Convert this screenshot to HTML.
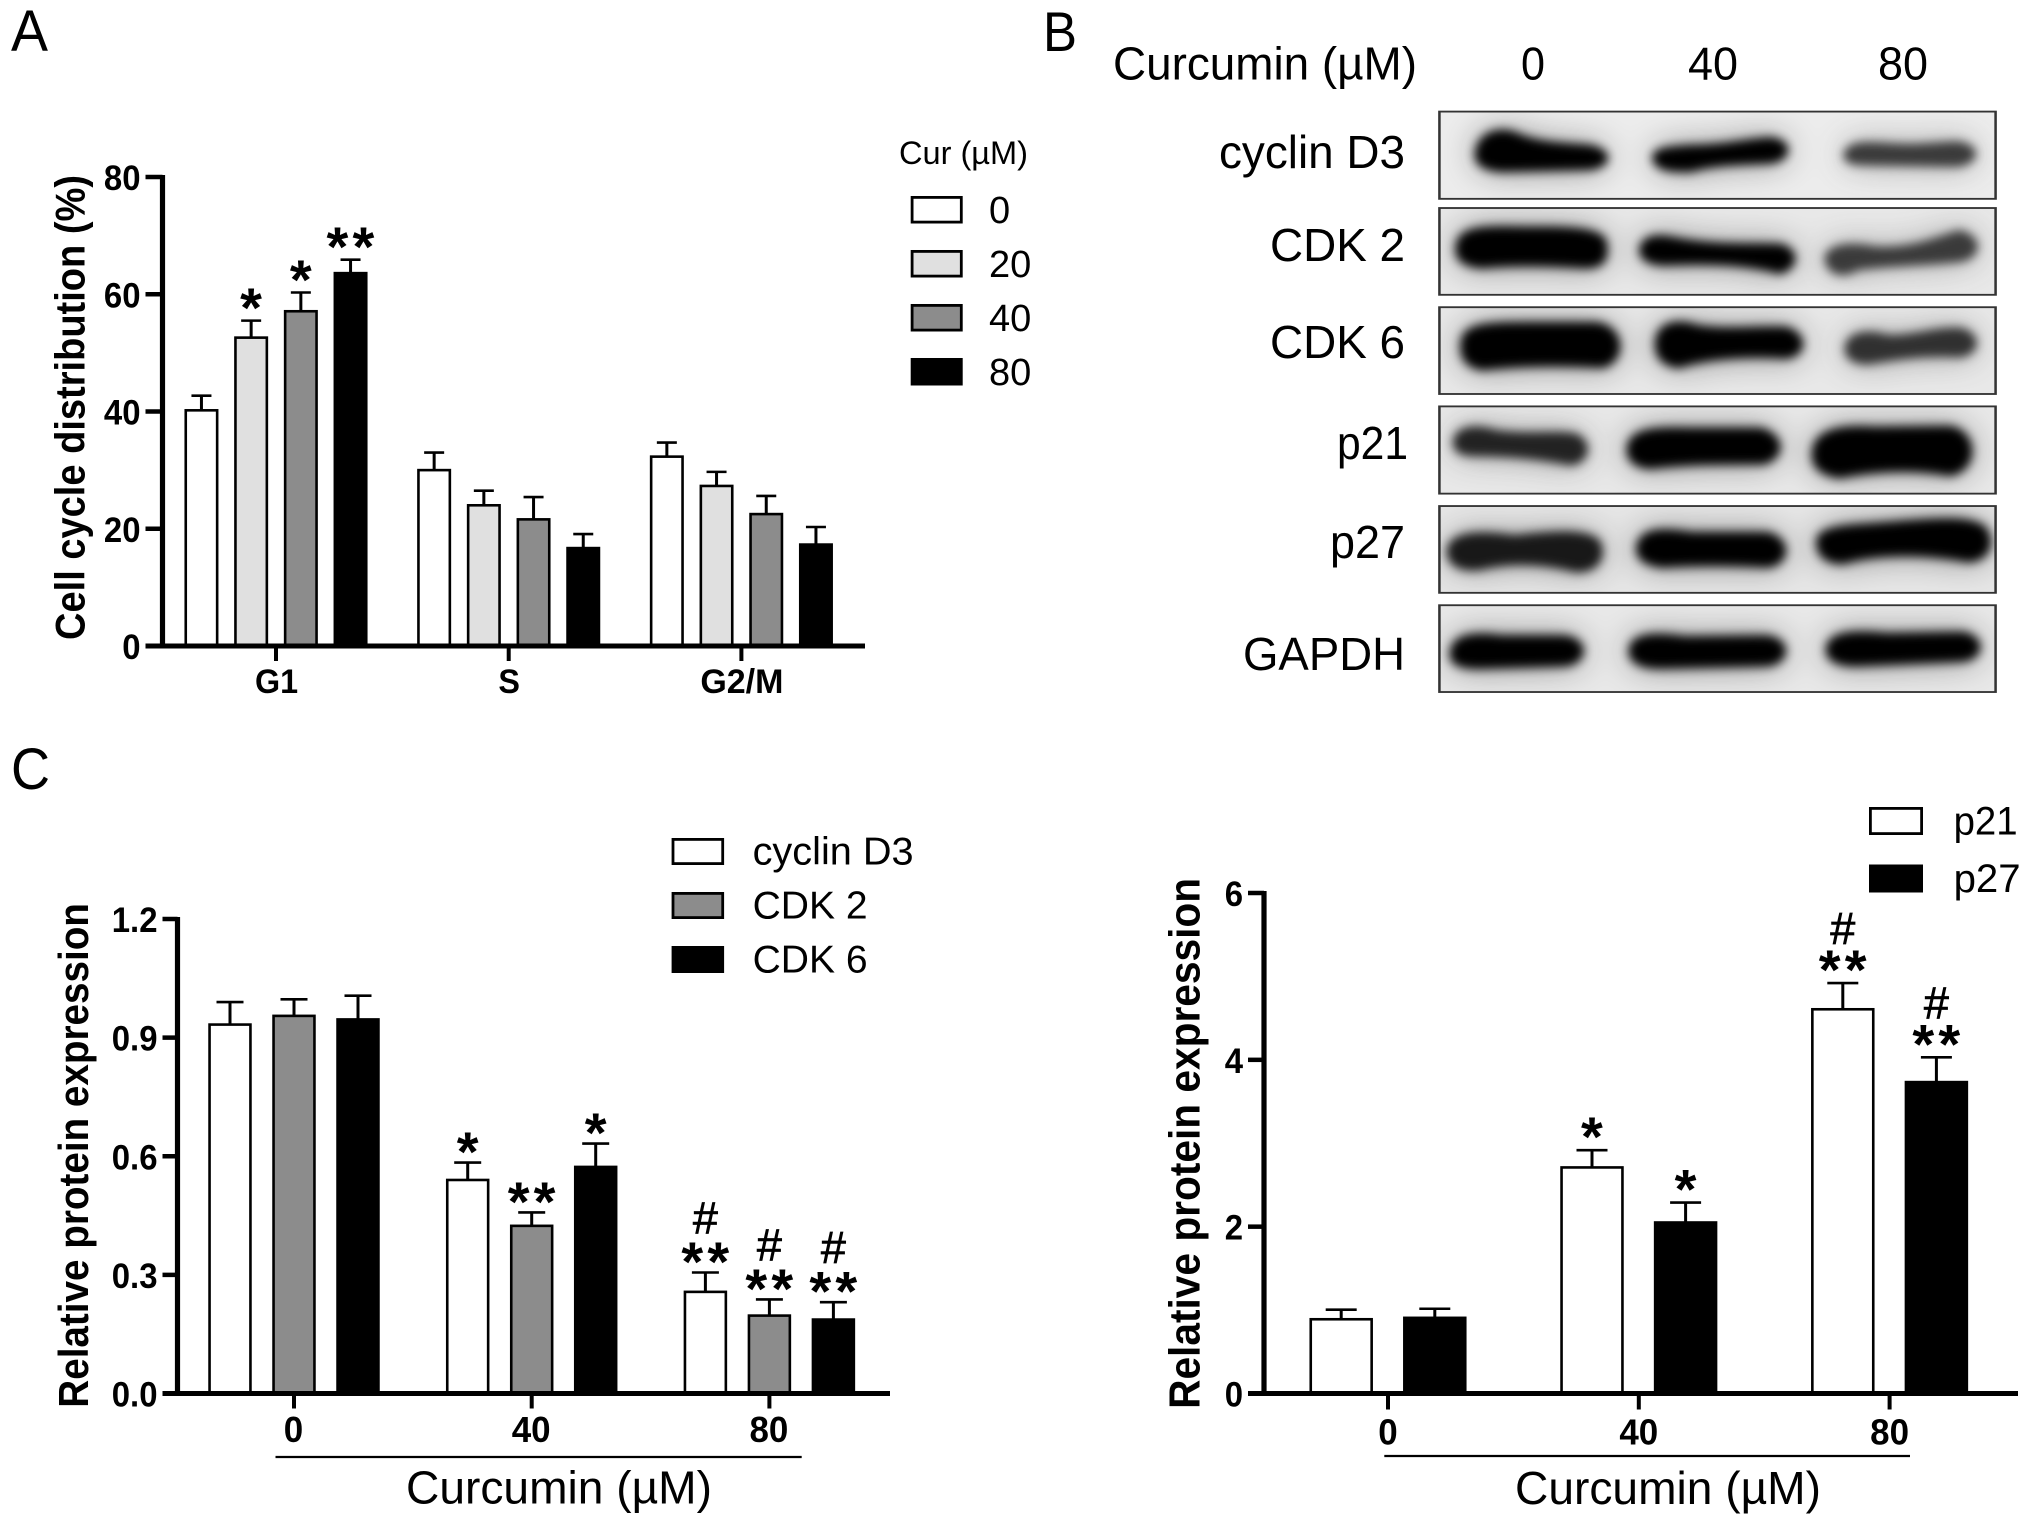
<!DOCTYPE html>
<html lang="en">
<head>
<meta charset="utf-8">
<title>Curcumin cell cycle figure</title>
<style>
html,body{margin:0;padding:0;background:#fff;}
svg{display:block;}
text{font-family:"Liberation Sans",Arial,sans-serif;fill:#000;}
.blot-band{stroke-linejoin:round;stroke-width:13;}
.blot-band.light{stroke-width:17;}
</style>
</head>
<body>
<svg id="figure" xmlns="http://www.w3.org/2000/svg" width="2031" height="1527" viewBox="0 0 2031 1527">
<defs>
  <filter id="bandBlur" x="-30%" y="-150%" width="160%" height="400%" color-interpolation-filters="sRGB">
    <feGaussianBlur in="SourceGraphic" stdDeviation="26 36" result="halo"/>
    <feComponentTransfer in="halo" result="haloFaint"><feFuncA type="linear" slope="0.42"/></feComponentTransfer>
    <feGaussianBlur in="SourceGraphic" stdDeviation="8 11" result="core"/>
    <feMerge><feMergeNode in="haloFaint"/><feMergeNode in="core"/></feMerge>
  </filter>
  <clipPath id="rowClip1"><rect x="632" y="243" width="880" height="190"/></clipPath>
  <clipPath id="rowClip2"><rect x="632" y="453" width="880" height="189"/></clipPath>
  <clipPath id="rowClip3"><rect x="632" y="669" width="880" height="189"/></clipPath>
  <clipPath id="rowClip4"><rect x="632" y="885" width="880" height="190"/></clipPath>
  <clipPath id="rowClip5"><rect x="632" y="1102" width="880" height="189"/></clipPath>
  <clipPath id="rowClip6"><rect x="632" y="1318" width="880" height="189"/></clipPath>
</defs>

<text x="11" y="51" font-size="58" textLength="37" lengthAdjust="spacingAndGlyphs">A</text>
<text x="1043" y="51" font-size="56" textLength="34" lengthAdjust="spacingAndGlyphs">B</text>
<text x="11" y="789" font-size="58" textLength="39" lengthAdjust="spacingAndGlyphs">C</text>

<g id="panelB">
  <text x="1113" y="79.5" font-size="46" textLength="304" lengthAdjust="spacingAndGlyphs">Curcumin (µM)</text>
  <text x="1533" y="79.5" font-size="46" text-anchor="middle" textLength="24" lengthAdjust="spacingAndGlyphs">0</text>
  <text x="1713" y="79.5" font-size="46" text-anchor="middle" textLength="50" lengthAdjust="spacingAndGlyphs">40</text>
  <text x="1903" y="79.5" font-size="46" text-anchor="middle" textLength="50" lengthAdjust="spacingAndGlyphs">80</text>

  <text x="1405" y="168" font-size="46" text-anchor="end" textLength="186" lengthAdjust="spacingAndGlyphs">cyclin D3</text>
  <text x="1405" y="261" font-size="46" text-anchor="end" textLength="135" lengthAdjust="spacingAndGlyphs">CDK 2</text>
  <text x="1405" y="358" font-size="46" text-anchor="end" textLength="135" lengthAdjust="spacingAndGlyphs">CDK 6</text>
  <text x="1408" y="459" font-size="46" text-anchor="end" textLength="71" lengthAdjust="spacingAndGlyphs">p21</text>
  <text x="1405" y="558" font-size="46" text-anchor="end" textLength="75" lengthAdjust="spacingAndGlyphs">p27</text>
  <text x="1405" y="670" font-size="46" text-anchor="end" textLength="162" lengthAdjust="spacingAndGlyphs">GAPDH</text>

  <g transform="translate(1040 0) scale(0.6320 0.4592)">
    <g>
      <rect x="632" y="243" width="880" height="190" fill="#ececec"/>
      <g clip-path="url(#rowClip1)"><g filter="url(#bandBlur)">
        <path class="blot-band" fill="#000" stroke="#000" d="M695 330 C700 290 730 280 755 297 C790 318 840 318 870 322 C900 330 900 358 870 364 L730 368 C700 365 692 350 695 330Z"/>
        <path class="blot-band" fill="#000" stroke="#000" d="M975 340 C980 325 1000 325 1030 322 C1080 322 1120 308 1155 305 C1185 308 1185 345 1155 350 C1110 352 1060 355 1030 368 C995 370 975 365 975 340Z"/>
        <path class="blot-band light" fill="#3a3a3a" stroke="#3a3a3a" d="M1280 335 C1285 318 1300 315 1340 320 C1390 325 1420 318 1450 316 C1480 320 1480 350 1450 355 L1310 352 C1290 352 1278 350 1280 335Z"/>
      </g></g>
      <rect x="632" y="243" width="880" height="190" fill="none" stroke="#333" stroke-width="4"/>
    </g>
    <g>
      <rect x="632" y="453" width="880" height="189" fill="#e8e8e8"/>
      <g clip-path="url(#rowClip2)"><g filter="url(#bandBlur)">
        <path class="blot-band" fill="#000" stroke="#000" d="M665 530 C670 500 700 498 760 500 C830 500 880 500 890 525 C895 560 890 580 860 578 C800 572 740 572 700 578 C670 575 660 560 665 530Z"/>
        <path class="blot-band" fill="#000" stroke="#000" d="M955 540 C960 515 980 515 1010 525 C1070 540 1130 535 1170 537 C1195 545 1195 580 1170 590 C1120 570 1050 568 990 572 C965 572 952 560 955 540Z"/>
        <path class="blot-band light" fill="#3a3a3a" stroke="#3a3a3a" d="M1250 560 C1255 540 1280 535 1320 545 C1380 550 1420 525 1455 510 C1482 520 1482 555 1455 562 C1400 570 1330 572 1290 580 C1270 600 1250 590 1250 560Z"/>
      </g></g>
      <rect x="632" y="453" width="880" height="189" fill="none" stroke="#333" stroke-width="4"/>
    </g>
    <g>
      <rect x="632" y="669" width="880" height="189" fill="#e8e8e8"/>
      <g clip-path="url(#rowClip3)"><g filter="url(#bandBlur)">
        <path class="blot-band" fill="#000" stroke="#000" d="M672 750 C672 712 700 708 770 708 L880 708 C918 715 922 780 890 795 C830 790 760 790 700 800 C680 795 670 780 672 750Z"/>
        <path class="blot-band" fill="#000" stroke="#000" d="M980 740 C985 705 1010 700 1040 715 C1090 725 1140 715 1180 718 C1208 730 1208 770 1180 775 C1130 770 1060 772 1010 795 C985 790 978 770 980 740Z"/>
        <path class="blot-band light" fill="#303030" stroke="#303030" d="M1282 755 C1285 730 1310 725 1340 738 C1380 740 1420 720 1455 722 C1480 730 1480 765 1455 770 C1400 765 1350 775 1310 785 C1290 785 1280 775 1282 755Z"/>
      </g></g>
      <rect x="632" y="669" width="880" height="189" fill="none" stroke="#333" stroke-width="4"/>
    </g>
    <g>
      <rect x="632" y="885" width="880" height="190" fill="#e8e8e8"/>
      <g clip-path="url(#rowClip4)"><g filter="url(#bandBlur)">
        <path class="blot-band light" fill="#222" stroke="#222" d="M662 960 C665 935 690 932 720 945 C770 955 820 945 845 952 C865 965 862 1000 840 1005 C790 990 730 985 690 985 C670 985 660 980 662 960Z"/>
        <path class="blot-band" fill="#000" stroke="#000" d="M935 975 C938 940 970 935 1030 938 L1140 938 C1170 950 1175 990 1145 1005 C1080 1005 1020 1005 965 1015 C945 1012 933 1000 935 975Z"/>
        <path class="blot-band" fill="#000" stroke="#000" d="M1228 985 C1230 945 1260 930 1320 936 L1440 934 C1478 945 1478 1020 1440 1030 C1380 1015 1320 1020 1265 1035 C1240 1030 1226 1015 1228 985Z"/>
      </g></g>
      <rect x="632" y="885" width="880" height="190" fill="none" stroke="#333" stroke-width="4"/>
    </g>
    <g>
      <rect x="632" y="1102" width="880" height="189" fill="#e6e6e6"/>
      <g clip-path="url(#rowClip5)"><g filter="url(#bandBlur)">
        <path class="blot-band" fill="#181818" stroke="#181818" d="M650 1200 C652 1165 690 1160 750 1172 C800 1165 860 1155 880 1180 C890 1210 880 1240 850 1240 C810 1225 750 1215 695 1235 C665 1240 650 1225 650 1200Z"/>
        <path class="blot-band" fill="#000" stroke="#000" d="M950 1190 C955 1155 985 1155 1030 1165 L1150 1165 C1182 1175 1182 1225 1150 1230 C1090 1225 1040 1225 985 1230 C960 1225 948 1215 950 1190Z"/>
        <path class="blot-band" fill="#000" stroke="#000" d="M1235 1175 C1240 1145 1300 1150 1370 1140 C1420 1135 1470 1130 1490 1150 C1505 1175 1500 1215 1470 1218 C1400 1200 1320 1200 1270 1222 C1245 1222 1233 1205 1235 1175Z"/>
      </g></g>
      <rect x="632" y="1102" width="880" height="189" fill="none" stroke="#333" stroke-width="4"/>
    </g>
    <g>
      <rect x="632" y="1318" width="880" height="189" fill="#e8e8e8"/>
      <g clip-path="url(#rowClip6)"><g filter="url(#bandBlur)">
        <path class="blot-band" fill="#000" stroke="#000" d="M655 1420 C658 1385 690 1382 730 1390 L830 1390 C862 1395 862 1440 830 1445 L700 1450 C670 1452 652 1445 655 1420Z"/>
        <path class="blot-band" fill="#000" stroke="#000" d="M938 1415 C940 1385 970 1382 1020 1392 L1150 1390 C1182 1395 1182 1440 1150 1445 L980 1450 C955 1450 936 1440 938 1415Z"/>
        <path class="blot-band" fill="#000" stroke="#000" d="M1250 1412 C1252 1380 1290 1378 1340 1385 L1460 1382 C1490 1390 1488 1430 1460 1435 L1290 1445 C1265 1445 1248 1435 1250 1412Z"/>
      </g></g>
      <rect x="632" y="1318" width="880" height="189" fill="none" stroke="#333" stroke-width="4"/>
    </g>
  </g>
</g>
</svg>

<script>
// ---------- Panel A data ----------
const categoriesA = ["G1", "S", "G2/M"];
const seriesNamesA = ["0", "20", "40", "80"];
const ticksA = ["0", "20", "40", "60", "80"];
const valuesA0 = [40.2, 30.0, 32.3];
const valuesA20 = [52.6, 24.0, 27.3];
const valuesA40 = [57.1, 21.6, 22.5];
const valuesA80 = [63.6, 16.7, 17.3];
const errorsA0 = [42.7, 33.0, 34.7];
const errorsA20 = [55.5, 26.5, 29.7];
const errorsA40 = [60.3, 25.4, 25.6];
const errorsA80 = [65.9, 19.1, 20.3];
const marksA0 = ["", "", ""];
const marksA20 = ["*", "", ""];
const marksA40 = ["*", "", ""];
const marksA80 = ["**", "", ""];

// ---------- Panel C (left) data ----------
const categoriesC1 = ["0", "40", "80"];
const seriesNamesC1 = ["cyclin D3", "CDK 2", "CDK 6"];
const ticksC1 = ["0.0", "0.3", "0.6", "0.9", "1.2"];
const valuesCyclinD3 = [0.933, 0.54, 0.257];
const valuesCdk2 = [0.955, 0.424, 0.197];
const valuesCdk6 = [0.946, 0.573, 0.187];
const errorsCyclinD3 = [0.99, 0.584, 0.306];
const errorsCdk2 = [0.997, 0.458, 0.238];
const errorsCdk6 = [1.006, 0.632, 0.231];
const marksCyclinD3 = ["", "*", "#**"];
const marksCdk2 = ["", "**", "#**"];
const marksCdk6 = ["", "*", "#**"];

// ---------- Panel C (right) data ----------
const categoriesC2 = ["0", "40", "80"];
const seriesNamesC2 = ["p21", "p27"];
const ticksC2 = ["0", "2", "4", "6"];
const valuesP21 = [0.89, 2.71, 4.606];
const valuesP27 = [0.907, 2.05, 3.733];
const errorsP21 = [1.005, 2.917, 4.92];
const errorsP27 = [1.016, 2.289, 4.03];
const marksP21 = ["", "*", "#**"];
const marksP27 = ["", "*", "#**"];

const SVG_NS = "http://www.w3.org/2000/svg";
const figure = document.getElementById("figure");

function slug(s) {
  return String(s).toLowerCase().replace(/[^a-z0-9]+/g, "-").replace(/^-|-$/g, "");
}

function shape(parent, tag, attrs, name) {
  const el = document.createElementNS(SVG_NS, tag);
  for (const k in attrs) el.setAttribute(k, attrs[k]);
  
  
  parent.appendChild(el);
  return el;
}

function label(parent, str, x, y, size, weight, anchor, len, name, rotate) {
  const el = document.createElementNS(SVG_NS, "text");
  el.setAttribute("x", x);
  el.setAttribute("y", y);
  el.setAttribute("font-size", size);
  el.setAttribute("font-weight", weight);
  el.setAttribute("text-anchor", anchor);
  if (len) {
    el.setAttribute("textLength", len);
    el.setAttribute("lengthAdjust", "spacingAndGlyphs");
  }
  if (rotate) el.setAttribute("transform", "rotate(-90 " + x + " " + y + ")");
  el.textContent = str;
  
  
  parent.appendChild(el);
  return el;
}

// narrow a label horizontally by a factor of its natural width
function squeeze(el, factor) {
  const natural = el.getComputedTextLength();
  el.setAttribute("textLength", natural * factor);
  el.setAttribute("lengthAdjust", "spacingAndGlyphs");
  return el;
}

function barChart(c) {
  const g = document.createElementNS(SVG_NS, "g");
  
  
  figure.appendChild(g);

  const maxVal = Number(c.ticks[c.ticks.length - 1]);
  const yOf = v => c.y0 - (v / maxVal) * (c.y0 - c.yTop);
  const groupX = i => c.firstGroupX + i * c.groupStep;
  const barX = (i, s) => groupX(i) + (s - (c.values.length - 1) / 2) * c.barStep;

  c.values.forEach((series, s) => {
    series.forEach((v, i) => {
      const cx = barX(i, s);
      const top = yOf(v);
      const errTop = yOf(c.errors[s][i]);
      shape(g, "line", {x1: cx, x2: cx, y1: top, y2: errTop, stroke: "#000", "stroke-width": 3}, c.id + "-error-stem");
      shape(g, "line", {x1: cx - c.capW / 2, x2: cx + c.capW / 2, y1: errTop, y2: errTop, stroke: "#000", "stroke-width": 2.6}, c.id + "-error-cap");
      const barName = "bar-" + slug(c.seriesNames[s]) + "-" + slug(c.categories[i]);
      shape(g, "rect", {x: cx - c.barW / 2 + 1.3, y: top, width: c.barW - 2.6, height: c.y0 - top, fill: c.fills[s], stroke: "#000", "stroke-width": 2.6}, barName);

      const mark = c.marks[s][i];
      if (mark) {
        const stars = mark.replace(/#/g, "");
        const hash = mark.indexOf("#") >= 0;
        const starEl = label(g, stars, cx + 2, errTop - c.starGap + 16, 56, 700, "middle", null, "significance-stars");
        starEl.setAttribute("letter-spacing", "4.2");
        if (hash) {
          const hashEl = label(g, "#", cx, errTop - 39, 45, 400, "middle", null, "significance-hash");
          hashEl.setAttribute("stroke", "#000");
          hashEl.setAttribute("stroke-width", "0.7");
        }
      }
    });
  });

  // axes
  shape(g, "line", {x1: c.axisX, x2: c.axisX, y1: c.yTop - 2, y2: c.y0 + 2, stroke: "#000", "stroke-width": 5.2}, c.id + "-y-axis");
  shape(g, "line", {x1: c.axisX - c.tickLen, x2: c.xEnd, y1: c.y0, y2: c.y0, stroke: "#000", "stroke-width": 5}, c.id + "-x-axis");

  c.ticks.forEach(t => {
    const y = yOf(Number(t));
    shape(g, "line", {x1: c.axisX - c.tickLen, x2: c.axisX, y1: y, y2: y, stroke: "#000", "stroke-width": 4.5}, c.id + "-y-tick");
    squeeze(label(g, t, c.axisX - c.tickLen - 5, y + 13, 35, 700, "end", null, c.id + "-y-tick-label"), 0.94);
  });

  c.categories.forEach((cat, i) => {
    const x = groupX(i);
    shape(g, "line", {x1: x, x2: x, y1: c.y0, y2: c.y0 + c.xTick, stroke: "#000", "stroke-width": 4}, c.id + "-x-tick");
    const catEl = label(g, cat, x + c.catDx, c.catY, c.catFont, 700, "middle", null, c.id + "-x-label-" + slug(cat));
    squeeze(catEl, cat === "G2/M" ? 1.0 : c.catSqueeze);
  });

  // y axis title
  label(g, c.yTitle, c.yTitleX, c.yTitleY, c.yTitleFont, 700, "start", c.yTitleLen, c.id + "-y-axis-title", true);

  // group underline + x title
  if (c.rule) {
    shape(g, "line", {x1: c.rule[0], x2: c.rule[1], y1: c.rule[2], y2: c.rule[2], stroke: "#000", "stroke-width": 2.2}, c.id + "-dose-rule");
    label(g, "Curcumin (µM)", c.xTitleX, c.xTitleY, 46, 400, "start", 306, c.id + "-x-axis-title");
  }

  // legend
  c.seriesNames.forEach((nm, s) => {
    const sy = c.legendY + s * c.legendStep;
    shape(g, "rect", {x: c.legendX + 1.4, y: sy + 1.4, width: c.legendW - 2.8, height: c.legendH - 2.8, fill: c.fills[s], stroke: "#000", "stroke-width": 2.8}, c.id + "-legend-swatch-" + slug(nm));
    label(g, nm, c.legendTextX, sy + c.legendH - 0.5, c.legendFont, 400, "start", c.legendLen ? c.legendLen[s] : null, c.id + "-legend-label-" + slug(nm));
  });
}

barChart({
  id: "cell-cycle-chart",
  categories: categoriesA, seriesNames: seriesNamesA, ticks: ticksA,
  values: [valuesA0, valuesA20, valuesA40, valuesA80],
  errors: [errorsA0, errorsA20, errorsA40, errorsA80],
  marks: [marksA0, marksA20, marksA40, marksA80],
  fills: ["#fff", "#e0e0e0", "#8c8c8c", "#000"],
  axisX: 162.5, y0: 646, yTop: 177, xEnd: 865, tickLen: 17, xTick: 15,
  firstGroupX: 276, groupStep: 232.7, barStep: 49.7, barW: 34, capW: 20,
  starGap: 9.5,
  catFont: 34, catDx: 0.5, catY: 693, catSqueeze: 0.95,
  yTitle: "Cell cycle distribution (%)", yTitleX: 84.5, yTitleY: 640, yTitleFont: 42, yTitleLen: 465,
  legendX: 910.7, legendY: 196, legendStep: 54, legendW: 52, legendH: 27.5,
  legendTextX: 989, legendFont: 38, legendLen: null
});
label(figure, "Cur (µM)", 899, 164, 32, 400, "start", 129, "legend-title-cur");

barChart({
  id: "cell-cycle-protein-chart",
  categories: categoriesC1, seriesNames: seriesNamesC1, ticks: ticksC1,
  values: [valuesCyclinD3, valuesCdk2, valuesCdk6],
  errors: [errorsCyclinD3, errorsCdk2, errorsCdk6],
  marks: [marksCyclinD3, marksCdk2, marksCdk6],
  fills: ["#fff", "#8c8c8c", "#000"],
  axisX: 177.5, y0: 1393.5, yTop: 919, xEnd: 890, tickLen: 15, xTick: 15,
  firstGroupX: 294, groupStep: 237.7, barStep: 64, barW: 43.5, capW: 27,
  starGap: 7.5,
  catFont: 36, catDx: -0.5, catY: 1442, catSqueeze: 0.97,
  yTitle: "Relative protein expression", yTitleX: 88, yTitleY: 1407.7, yTitleFont: 42, yTitleLen: 504.6,
  rule: [275.5, 801.7, 1457], xTitleX: 406, xTitleY: 1503.5,
  legendX: 671.6, legendY: 838, legendStep: 54, legendW: 52.5, legendH: 27,
  legendTextX: 752.6, legendFont: 39, legendLen: [161, 115, 115]
});

barChart({
  id: "p21-p27-chart",
  categories: categoriesC2, seriesNames: seriesNamesC2, ticks: ticksC2,
  values: [valuesP21, valuesP27],
  errors: [errorsP21, errorsP27],
  marks: [marksP21, marksP27],
  fills: ["#fff", "#000"],
  axisX: 1264, y0: 1393.5, yTop: 893, xEnd: 2018, tickLen: 16, xTick: 16,
  firstGroupX: 1388, groupStep: 250.8, barStep: 93.6, barW: 63.5, capW: 31,
  starGap: 10,
  catFont: 36, catDx: 0, catY: 1444.5, catSqueeze: 0.97,
  yTitle: "Relative protein expression", yTitleX: 1199.7, yTitleY: 1408.9, yTitleFont: 44, yTitleLen: 531,
  rule: [1384.3, 1910, 1456], xTitleX: 1515, xTitleY: 1504,
  legendX: 1869, legendY: 807, legendStep: 57.5, legendW: 54, legendH: 28,
  legendTextX: 1953.6, legendFont: 40, legendLen: [64, 67]
});
</script>
</body>
</html>
